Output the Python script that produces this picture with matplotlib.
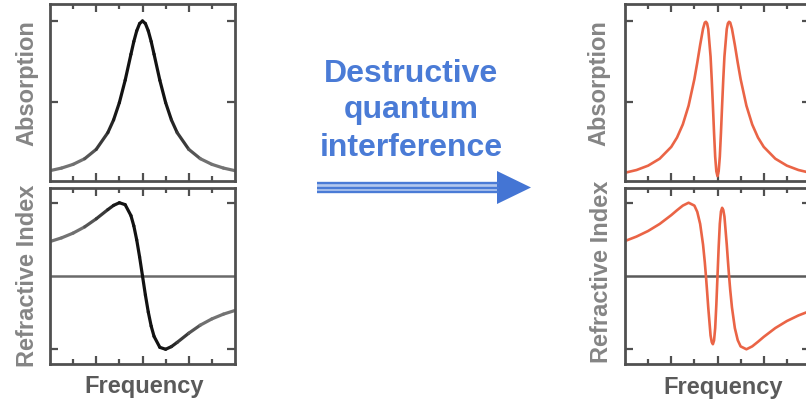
import numpy as np
import matplotlib
matplotlib.use('Agg')
import matplotlib.pyplot as plt
from matplotlib.collections import LineCollection
from matplotlib.patches import Polygon, Rectangle

plt.rcParams['font.family'] = ['Liberation Sans', 'DejaVu Sans']

# ---------------- data (frequency in tick units) ----------------
freq_left = [-4, -3.5, -3, -2.5, -2, -1.5, -1.25, -1, -0.75, -0.5, -0.375, -0.25, -0.125, 0,
             0.125, 0.25, 0.375, 0.5, 0.75, 1, 1.25, 1.5, 2, 2.5, 3, 3.5, 4]
absorb_left = [0.074, 0.090, 0.113, 0.148, 0.206, 0.309, 0.388, 0.495, 0.633, 0.794, 0.873, 0.939, 0.984, 1.0,
               0.984, 0.939, 0.873, 0.794, 0.633, 0.495, 0.388, 0.309, 0.206, 0.148, 0.113, 0.090, 0.074]
index_left = [0.47, 0.52, 0.585, 0.67, 0.78, 0.905, 0.963, 0.999, 0.973, 0.824, 0.683, 0.492, 0.259, 0.0,
              -0.259, -0.492, -0.683, -0.824, -0.973, -0.999, -0.963, -0.905, -0.78, -0.67, -0.585, -0.52, -0.47]

freq_right = [-4, -3.5, -3, -2.5, -2, -1.75, -1.5, -1.25, -1, -0.875, -0.75, -0.625, -0.55, -0.5, -0.45,
              -0.4, -0.3, -0.25, -0.2, -0.15, -0.1, -0.05, 0,
              0.05, 0.1, 0.15, 0.2, 0.25, 0.3, 0.4, 0.45, 0.5, 0.55, 0.625, 0.75, 0.875,
              1, 1.25, 1.5, 1.75, 2, 2.5, 3, 3.5, 4]
absorb_right = [0.061, 0.078, 0.105, 0.148, 0.221, 0.279, 0.36, 0.476, 0.64, 0.742, 0.852, 0.952, 0.99, 0.995, 0.985,
                0.95, 0.78, 0.64, 0.48, 0.31, 0.16, 0.07, 0.04,
                0.07, 0.16, 0.31, 0.48, 0.64, 0.78, 0.95, 0.985, 0.995, 0.99, 0.952, 0.852, 0.742,
                0.64, 0.476, 0.36, 0.279, 0.221, 0.148, 0.105, 0.078, 0.061]
index_right = [0.477, 0.538, 0.614, 0.71, 0.83, 0.897, 0.96, 0.999, 0.96, 0.875, 0.71, 0.428, 0.19, 0.0, -0.21,
               -0.43, -0.81, -0.90, -0.93, -0.88, -0.71, -0.39, 0.0,
               0.39, 0.71, 0.88, 0.93, 0.90, 0.81, 0.43, 0.21, 0.0, -0.19, -0.428, -0.71, -0.875,
               -0.96, -0.999, -0.96, -0.897, -0.83, -0.71, -0.614, -0.538, -0.477]

W, H = 806, 406
fig = plt.figure(figsize=(W / 100, H / 100), dpi=100)
fig.patch.set_facecolor('white')

SPINE = '#505050'


def panel(left_px, top_px, w_px, h_px):
    ax = fig.add_axes([left_px / W, 1 - (top_px + h_px) / H, w_px / W, h_px / H])
    for s in ax.spines.values():
        s.set_color(SPINE)
        s.set_linewidth(2.0)
    ax.set_xlim(-4, 4)
    ax.set_xticks([-2, 0, 2])
    ax.set_xticks([-3, -1, 1, 3], minor=True)
    ax.tick_params(which='both', direction='in', top=True, right=True, color=SPINE,
                   labelbottom=False, labelleft=False, width=1.6)
    ax.tick_params(which='major', length=6)
    ax.tick_params(which='minor', length=3.5)
    ax.set_facecolor('none')
    return ax


def grey_curve(ax, x, y):
    # line goes from grey in the wings to black near resonance
    pts = np.column_stack([x, y])
    segs = np.stack([pts[:-1], pts[1:]], axis=1)
    mid = np.abs((np.array(x[:-1]) + np.array(x[1:])) / 2)
    t = np.clip((mid - 1.0) / 1.8, 0, 1)[:, None]
    cols = (1 - t) * np.array([0.07, 0.07, 0.07]) + t * np.array([0.45, 0.45, 0.45])
    lc = LineCollection(segs, colors=cols, linewidths=2.3, capstyle='round', joinstyle='round')
    ax.add_collection(lc)


ORANGE = '#ea6446'

# left pair
ax1 = panel(50, 5, 185, 177)
ax1.set_ylim(0.01, 1.105)
ax1.set_yticks([0.5, 1.0])
grey_curve(ax1, freq_left, absorb_left)

ax2 = panel(50, 189, 185, 176)
ax2.set_ylim(-1.2, 1.2)
ax2.set_yticks([-1, 1])
ax2.axhline(0, color='#6a6a6a', lw=1.8)
grey_curve(ax2, freq_left, index_left)

# right pair
ax3 = panel(625, 5, 185, 177)
ax3.set_ylim(0.01, 1.105)
ax3.set_yticks([0.5, 1.0])
ax3.plot(freq_right, absorb_right, color=ORANGE, lw=1.9, solid_joinstyle='round')

ax4 = panel(625, 189, 185, 176)
ax4.set_ylim(-1.2, 1.2)
ax4.set_yticks([-1, 1])
ax4.axhline(0, color='#5a5a5a', lw=1.8)
ax4.plot(freq_right, index_right, color=ORANGE, lw=1.9, solid_joinstyle='round')

# axis labels
LAB = '#858585'
fig.text(27 / W, 1 - 83 / H, 'Absorption', rotation=90, ha='center', va='center',
         fontsize=17, fontweight='bold', color=LAB)
fig.text(28 / W, 1 - 276 / H, 'Refractive Index', rotation=90, ha='center', va='center',
         fontsize=17, fontweight='bold', color=LAB)
fig.text(599 / W, 1 - 83 / H, 'Absorption', rotation=90, ha='center', va='center',
         fontsize=17, fontweight='bold', color=LAB)
fig.text(602 / W, 1 - 272 / H, 'Refractive Index', rotation=90, ha='center', va='center',
         fontsize=17, fontweight='bold', color=LAB)
fig.text(144 / W, 1 - 387 / H, 'Frequency', ha='center', va='center',
         fontsize=17, fontweight='bold', color='#5a5a5a')
fig.text(723 / W, 1 - 388 / H, 'Frequency', ha='center', va='center',
         fontsize=17, fontweight='bold', color='#5a5a5a')

# middle text and arrow
BLUE = '#4a7bd6'
for txt, base in [('Destructive', 82), ('quantum', 118), ('interference', 156)]:
    fig.text(411 / W, 1 - base / H, txt, ha='center', va='baseline',
             fontsize=23, fontweight='bold', color=BLUE)

ov = fig.add_axes([0, 0, 1, 1], zorder=-1)
ov.set_xlim(0, W)
ov.set_ylim(H, 0)
ov.axis('off')
ov.add_patch(Rectangle((317, 183), 182, 11, facecolor='#b4c8ee', edgecolor='none'))
for yy in (184.3, 188.5, 192.7):
    ov.plot([317, 499], [yy, yy], color=BLUE, lw=1.7, solid_capstyle='butt')
ov.add_patch(Polygon([[497, 172], [497, 205], [531, 188.5]], closed=True,
                     facecolor='#4475d4', edgecolor='none'))

fig.savefig('out.png', dpi=100, facecolor='white')
